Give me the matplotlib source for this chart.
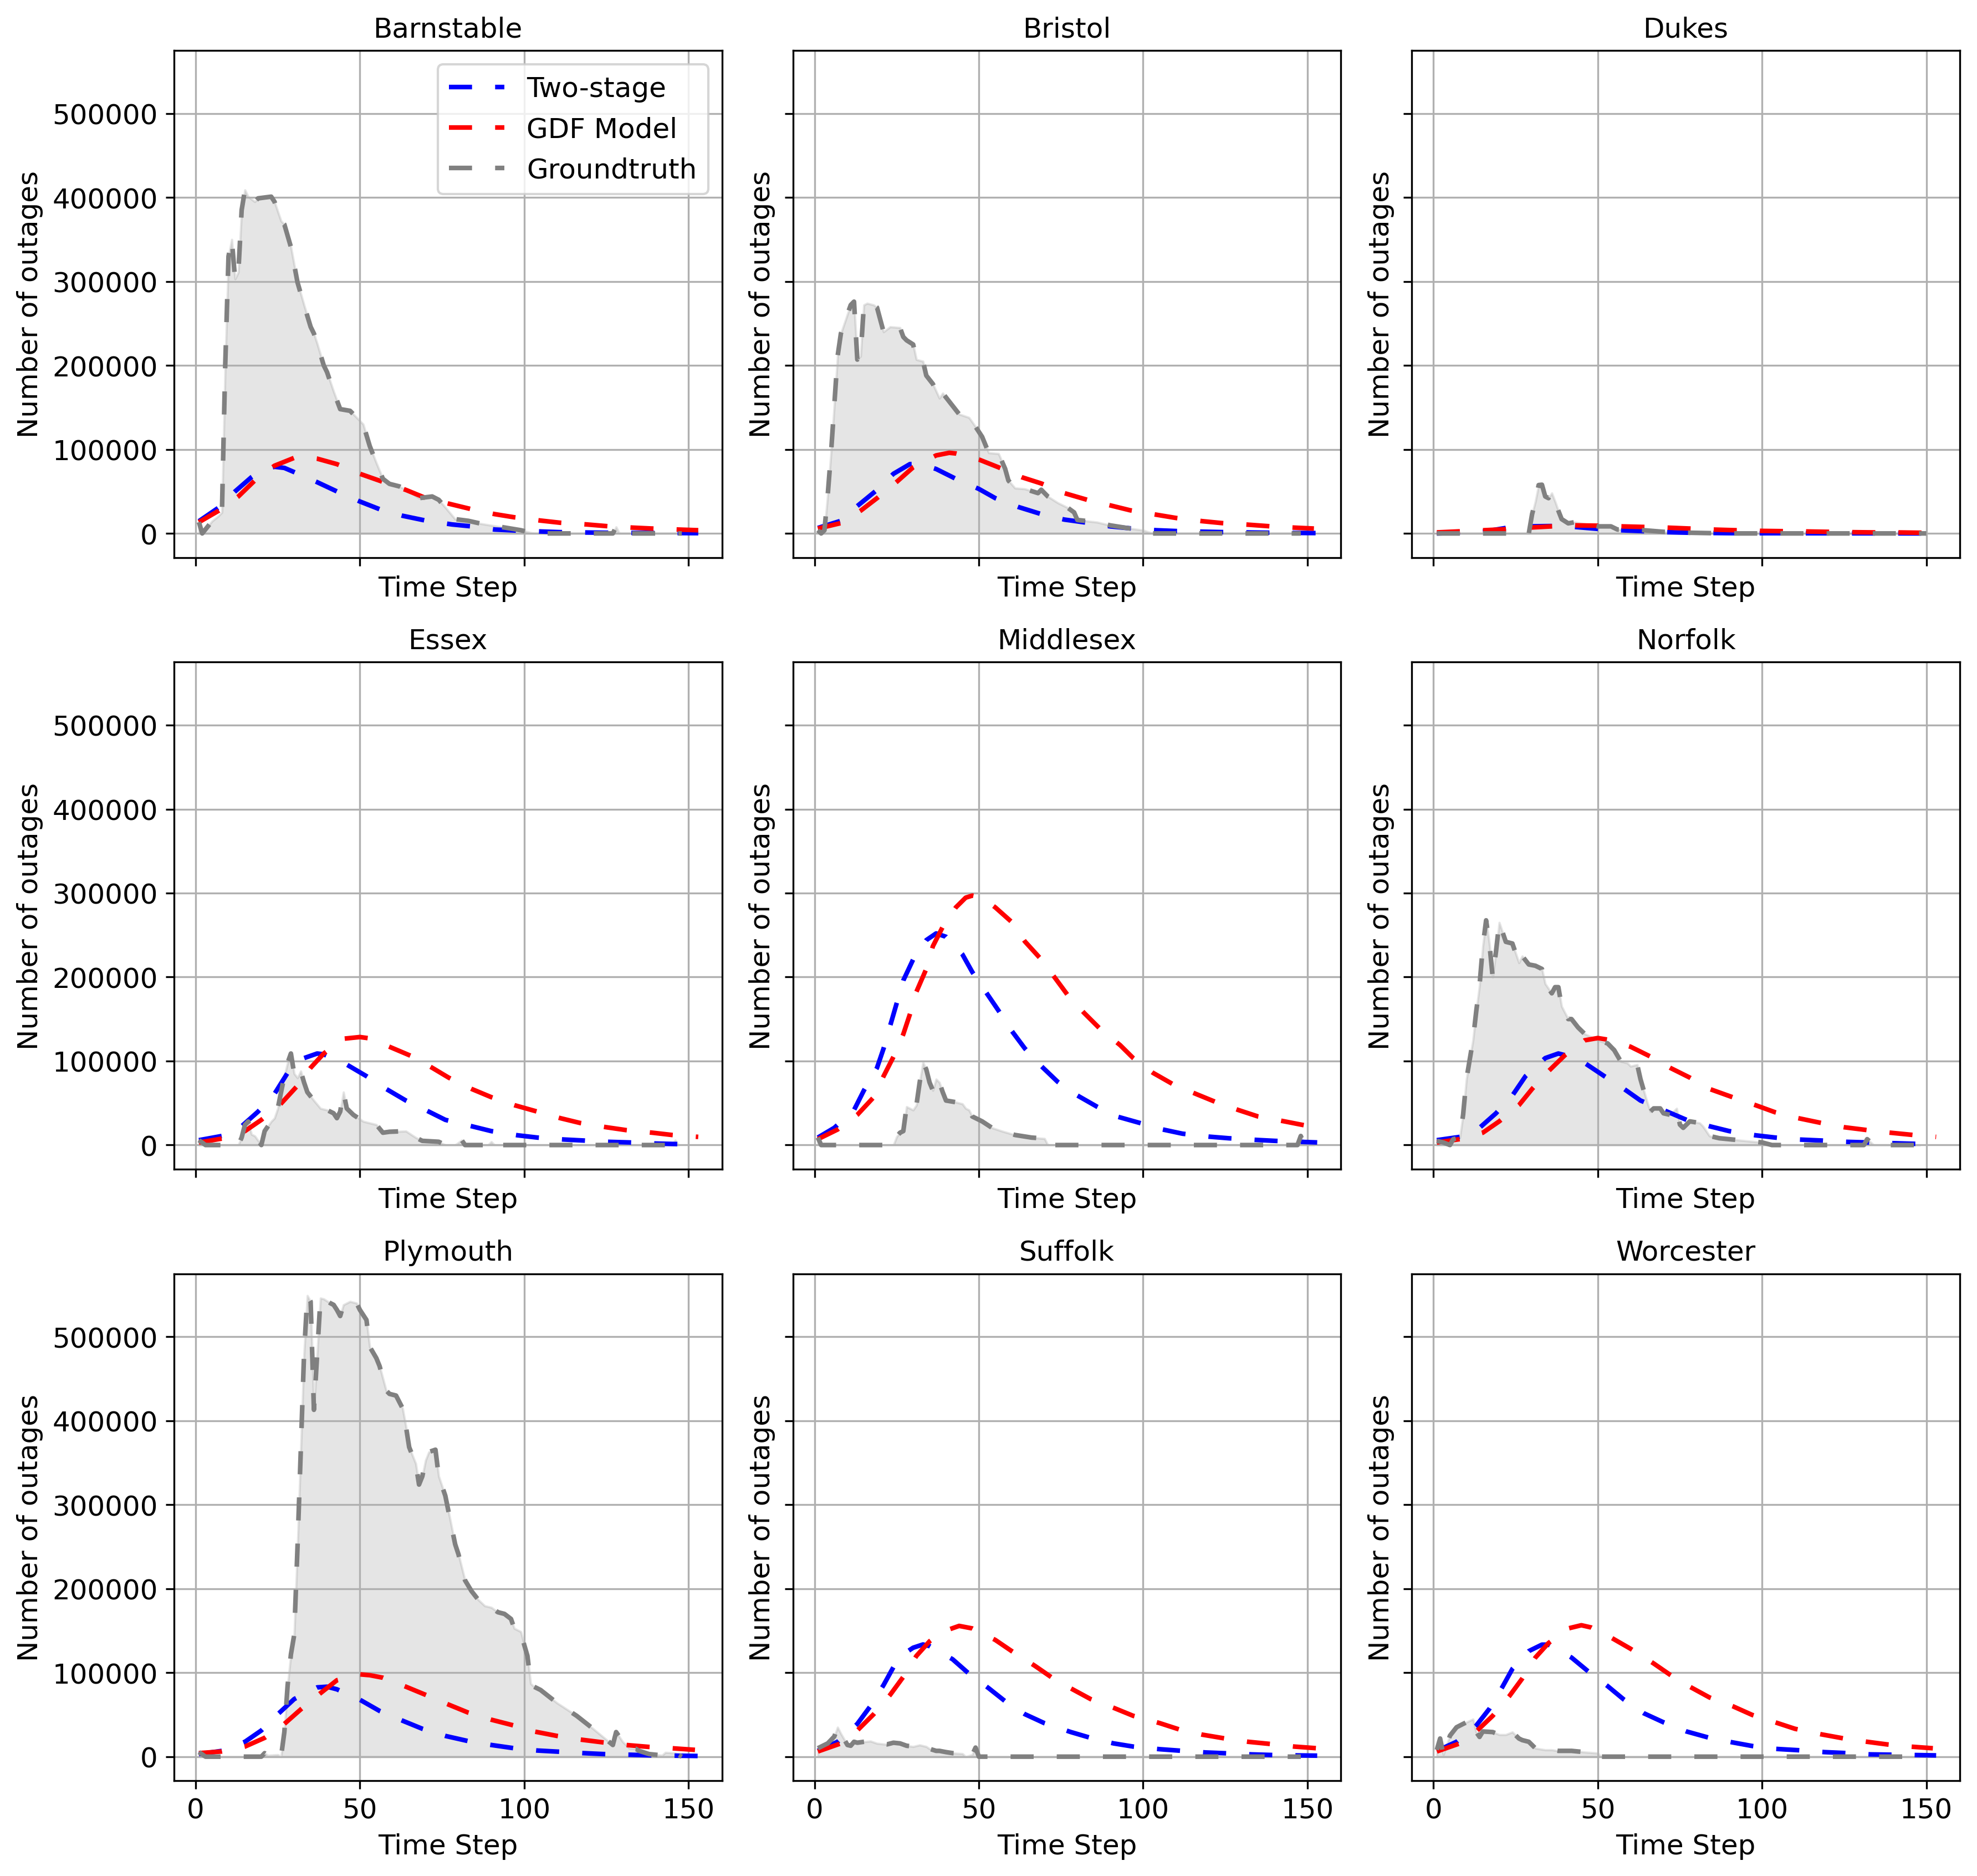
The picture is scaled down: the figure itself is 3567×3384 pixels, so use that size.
import matplotlib
matplotlib.use("Agg")
from matplotlib import pyplot as plt

plt.rcParams['font.size'] = 12

counties = ["Barnstable", "Bristol", "Dukes", "Essex", "Middlesex",
            "Norfolk", "Plymouth", "Suffolk", "Worcester"]

# ---- Barnstable
barnstable_gt_t = [1, 2, 5, 7, 8, 9, 10, 11, 12, 13, 14, 15, 16, 17, 18, 19, 21, 23, 24, 26, 27, 29, 31, 33,
                   35, 36, 37, 39, 40, 42, 44, 47, 49, 51, 53, 55, 57, 59, 62, 65, 68, 72, 74, 76, 79, 83,
                   87, 93, 99, 103, 127, 128, 129, 148]
barnstable_gt = [13400, 0, 14600, 21000, 25000, 200000, 330000, 350000, 303000, 311000, 385000, 409000,
                 401000, 398000, 395000, 399000, 400000, 401000, 395000, 372000, 368000, 341000, 299000,
                 272000, 246000, 238000, 226000, 200000, 192000, 169000, 148000, 146000, 138000, 130000,
                 104000, 84000, 65000, 59000, 56000, 50000, 42000, 44000, 40000, 31000, 17000, 15000,
                 11500, 7700, 3800, 0, 0, 7700, 0, 0]
barnstable_two_t = [1, 7, 12, 17, 20, 24, 27, 30, 37, 43, 50, 56, 63, 70, 78, 84, 91, 100, 111, 125, 153]
barnstable_two = [14600, 30700, 50000, 67000, 75000, 79400, 78000, 73000, 61000, 50000, 38000, 28800,
                  21000, 15300, 10700, 8400, 4600, 3000, 1500, 800, 300]
barnstable_gdf_t = [1, 7, 13, 18, 24, 30, 33, 37, 43, 50, 57, 64, 70, 78, 84, 91, 97, 105, 111, 119, 126,
                    133, 139, 147, 153]
barnstable_gdf = [13400, 27000, 44000, 63000, 80600, 90000, 91000, 89000, 82500, 71000, 61400, 51800,
                  42200, 34500, 28800, 23000, 19200, 15300, 12700, 10700, 8400, 6900, 5800, 4600, 3800]

# ---- Bristol
bristol_gt_t = [1, 2, 3, 4, 5, 6, 7, 8, 10, 11, 12, 13, 14, 15, 16, 18, 19, 21, 23, 26, 27, 28, 30, 31, 33,
                34, 36, 38, 39, 42, 44, 47, 49, 51, 53, 56, 58, 59, 61, 64, 68, 69, 71, 74, 77, 79, 80,
                86, 90, 95, 100, 103, 148]
bristol_gt = [3800, 0, 3800, 46000, 96000, 153000, 211000, 238000, 261000, 272000, 276000, 207000,
              211000, 272000, 274000, 272000, 269000, 240000, 246000, 245000, 234000, 230000, 225000,
              207000, 205000, 188000, 178000, 161000, 167000, 152000, 142000, 138000, 127000, 115000,
              96000, 95000, 77000, 63000, 54000, 53000, 48000, 52000, 44000, 36500, 30700, 25000, 16000,
              13400, 9600, 6500, 3800, 0, 0]
bristol_two_t = [1, 8, 13, 19, 24, 29, 32, 37, 43, 50, 55, 62, 69, 76, 83, 90, 96, 104, 111, 125, 139, 153]
bristol_two = [6500, 15000, 32600, 51800, 71000, 82500, 83000, 76700, 65000, 53000, 42000, 31500, 23000,
               16500, 12700, 8400, 6100, 3800, 2700, 1500, 800, 400]
bristol_gdf_t = [1, 8, 14, 19, 25, 30, 37, 41, 43, 50, 56, 63, 69, 76, 83, 90, 96, 104, 110, 118, 124, 132,
                 139, 146, 152]
bristol_gdf = [5800, 12300, 27000, 42000, 61400, 78700, 92900, 96000, 95200, 88000, 78700, 67000, 59500,
               48000, 40000, 33400, 27600, 22300, 18400, 14600, 12300, 10400, 8400, 6900, 5800]

# ---- Dukes
dukes_gt_t = [1, 29, 30, 31, 32, 33, 34, 35, 36, 37, 38, 39, 41, 43, 50, 54, 56, 64, 70, 78, 89, 150]
dukes_gt = [0, 0, 23000, 38000, 57600, 58000, 44000, 42000, 48000, 38000, 27000, 17000, 12000, 13400,
            8400, 8400, 4600, 3800, 1900, 800, 0, 0]
dukes_two_t = [1, 15, 22, 29, 36, 43, 50, 57, 64, 71, 78, 90, 153]
dukes_two = [0, 2000, 6500, 8400, 8800, 7700, 5400, 3800, 2700, 1500, 800, 300, 0]
dukes_gdf_t = [1, 22, 29, 36, 43, 50, 57, 64, 71, 78, 85, 92, 100, 106, 114, 120, 127, 134, 141, 148, 153]
dukes_gdf = [1200, 5000, 6900, 8400, 9600, 9200, 8400, 7700, 6900, 5800, 4600, 3800, 3000, 2700, 2300,
             1900, 1500, 1200, 1200, 800, 700]

# ---- Essex
essex_gt_t = [1, 3, 13, 14, 15, 16, 17, 18, 20, 21, 23, 24, 25, 26, 27, 28, 29, 30, 31, 32, 33, 34, 36, 38,
              40, 42, 43, 44, 45, 46, 48, 51, 55, 57, 59, 64, 67, 69, 74, 76, 79, 81, 82, 89, 90, 91, 145,
              146, 147]
essex_gt = [5800, 0, 0, 8900, 24000, 28000, 12700, 10800, 0, 16600, 28000, 32000, 43600, 63000, 82000,
            98000, 109000, 85000, 80000, 88000, 74500, 63000, 53000, 43600, 41700, 37800, 32000, 39800,
            63000, 43600, 36000, 28200, 24300, 14700, 15800, 16600, 8900, 5000, 3900, 0, 0, 5800, 0, 0,
            3900, 0, 0, 5800, 0]
essex_two_t = [1, 8, 14, 19, 24, 28, 33, 37, 39, 46, 52, 58, 64, 70, 76, 84, 90, 98, 104, 112, 118, 125,
               132, 139, 146, 153]
essex_two = [5800, 10800, 22400, 39800, 61000, 86000, 103500, 109000, 108000, 95800, 82000, 66800, 53000,
             41700, 30000, 22400, 16600, 11600, 8900, 6600, 5400, 3900, 3100, 1900, 1200, 800]
essex_gdf_t = [1, 8, 15, 20, 26, 31, 35, 39, 45, 50, 53, 59, 66, 72, 77, 84, 90, 97, 104, 111, 117, 125,
               131, 139, 145, 153]
essex_gdf = [3000, 7700, 16600, 30000, 49400, 70700, 92000, 109000, 126600, 128600, 127000, 117000,
             105400, 92000, 80300, 66800, 57000, 47500, 39800, 32000, 26300, 21200, 17800, 14700, 12000,
             9700]

# ---- Middlesex
middlesex_gt_t = [1, 2, 24, 25, 26, 27, 28, 30, 31, 32, 33, 34, 35, 36, 37, 38, 39, 40, 43, 45, 46, 47, 48,
                  51, 54, 57, 61, 66, 70, 71, 147, 148, 149, 152]
middlesex_gt = [8900, 0, 0, 10000, 14700, 16600, 45600, 41700, 47500, 75000, 98500, 90000, 74500, 65000,
                78400, 74500, 63000, 53000, 51000, 49000, 43600, 41700, 34000, 28200, 20500, 16600, 12000,
                8900, 7700, 0, 0, 10800, 1200, 1200]
middlesex_two_t = [1, 6, 12, 15, 19, 21, 23, 25, 27, 30, 34, 37, 40, 45, 48, 52, 56, 60, 64, 69, 74, 80,
                   86, 92, 99, 106, 112, 120, 126, 134, 140, 147, 153]
middlesex_two = [8900, 20500, 41700, 65000, 92000, 115000, 142000, 169000, 196000, 221000, 244000,
                 252000, 248000, 227000, 206000, 183000, 160000, 136000, 115000, 94000, 75300, 59000,
                 45600, 34000, 26300, 18500, 13500, 10000, 8100, 6200, 5000, 3900, 3100]
middlesex_gdf_t = [1, 7, 13, 18, 21, 24, 27, 29, 31, 34, 36, 39, 43, 46, 48, 51, 55, 60, 64, 69, 73, 77,
                   82, 87, 93, 97, 103, 109, 116, 122, 129, 135, 143, 149, 153]
middlesex_gdf = [7000, 18500, 36000, 57000, 82000, 105000, 132000, 155600, 182600, 209700, 236700,
                 259800, 283000, 294600, 297000, 294600, 283000, 265600, 242500, 221000, 200000, 178800,
                 157500, 138000, 119000, 103500, 86000, 72600, 61000, 51400, 41700, 34000, 28200, 23600,
                 21000]

# ---- Norfolk
norfolk_gt_t = [1, 3, 5, 6, 8, 9, 10, 11, 12, 13, 14, 15, 16, 17, 18, 19, 20, 22, 24, 26, 27, 29, 31, 33,
                34, 36, 37, 38, 39, 41, 42, 44, 46, 48, 50, 53, 55, 57, 59, 60, 62, 63, 65, 66, 67, 69, 70,
                72, 74, 75, 76, 78, 81, 82, 84, 87, 93, 100, 103, 131, 132, 134, 148]
norfolk_gt = [5000, 3000, 0, 7000, 8900, 36000, 78000, 101500, 124700, 159500, 190000, 236700, 267600,
              240000, 200000, 230000, 265000, 242000, 240000, 217000, 225000, 215000, 213500, 209700,
              192000, 180700, 188000, 188000, 165000, 150000, 150000, 140000, 132400, 128600, 124700,
              121000, 113000, 99600, 97700, 93800, 95800, 78400, 51400, 39800, 43600, 43600, 37800,
              36000, 43600, 24300, 20500, 28200, 26300, 22400, 10800, 8100, 5800, 3100, 0, 0, 7000, 0, 0]
norfolk_two_t = [1, 8, 14, 19, 24, 28, 34, 38, 40, 46, 52, 58, 63, 70, 77, 84, 90, 98, 104, 111, 118, 125,
                 132, 139, 146, 153]
norfolk_two = [5800, 9700, 20500, 37800, 59000, 82000, 103500, 109000, 107000, 97700, 82000, 66800,
               53000, 41700, 30000, 22400, 16600, 11600, 8900, 6600, 5400, 3900, 3100, 2300, 1500, 1200]
norfolk_gdf_t = [1, 8, 15, 20, 26, 30, 35, 40, 46, 50, 53, 60, 66, 72, 78, 84, 91, 98, 104, 111, 118, 125,
                 132, 139, 146, 153]
norfolk_gdf = [3000, 7000, 14700, 28200, 47500, 66800, 88000, 107000, 124700, 127400, 125500, 117000,
               105400, 92000, 80300, 66800, 57000, 47500, 39000, 32000, 26300, 21200, 17800, 14700, 12000,
               9700]

# ---- Plymouth
plymouth_gt_t = [1, 3, 20, 21, 22, 25, 26, 27, 28, 29, 30, 31, 32, 33, 34, 35, 36, 37, 38, 39, 41, 42, 43,
                 44, 45, 47, 49, 50, 52, 53, 55, 56, 58, 59, 61, 63, 64, 65, 67, 68, 69, 70, 71, 73, 74, 76,
                 77, 78, 79, 80, 82, 84, 86, 88, 90, 92, 94, 96, 97, 99, 100, 101, 102, 103, 105, 110, 116,
                 121, 127, 128, 130, 132, 134, 135, 138, 142, 143, 146, 148]
plymouth_gt = [5400, 0, 0, 4200, 1500, 2300, 0, 29300, 85000, 121800, 145000, 249000, 364700, 480000,
               549000, 542000, 413000, 480000, 546000, 545000, 540000, 538000, 532000, 524700, 538000,
               542000, 540000, 532000, 520000, 488000, 474600, 465000, 436000, 432000, 430000, 414800,
               393600, 368500, 349000, 324000, 333800, 353000, 362800, 365500, 333800, 310700, 291400,
               272000, 252900, 241000, 210000, 197000, 187000, 179600, 177700, 172000, 170000, 164000,
               152700, 148800, 133400, 120000, 87000, 83300, 79400, 64000, 48600, 33200, 13900, 29300,
               17700, 10000, 9300, 6900, 3100, 1500, 5000, 4200, 0]
plymouth_two_t = [1, 8, 15, 20, 25, 30, 37, 40, 43, 50, 56, 63, 69, 76, 83, 90, 97, 104, 111, 118, 124,
                  132, 139, 146, 153]
plymouth_two = [3100, 6900, 17700, 31200, 50500, 68600, 82500, 83300, 80200, 67800, 54400, 42800, 33200,
                24700, 18500, 13900, 10000, 7300, 5800, 4200, 3100, 2300, 1500, 1200, 800]
plymouth_gdf_t = [1, 8, 15, 21, 27, 32, 38, 43, 50, 53, 57, 64, 70, 77, 83, 90, 97, 103, 110, 117, 124,
                  131, 138, 145, 152]
plymouth_gdf = [4200, 6200, 12000, 22400, 39000, 56300, 75600, 91000, 98000, 97000, 94000, 83300, 73600,
                62000, 52400, 44000, 37000, 30000, 24700, 20400, 17000, 13900, 11600, 10000, 8100]

# ---- Suffolk
suffolk_gt_t = [1, 3, 4, 6, 7, 8, 10, 11, 12, 13, 15, 17, 19, 22, 24, 26, 28, 30, 32, 34, 35, 37, 38, 40,
                42, 45, 46, 48, 49, 50, 148]
suffolk_gt = [10000, 13900, 15800, 24000, 35000, 27400, 13900, 13000, 17700, 16600, 17700, 18500, 15800,
              14600, 16600, 15800, 13000, 12000, 13900, 12000, 9300, 6900, 6900, 5400, 4200, 3500, 0,
              2300, 10800, 0, 0]
suffolk_two_t = [1, 7, 13, 17, 21, 24, 27, 30, 33, 35, 42, 47, 53, 58, 64, 70, 78, 84, 91, 97, 105, 112,
                 119, 126, 133, 140, 147, 153]
suffolk_two = [6900, 17700, 39000, 60200, 85300, 106600, 122000, 129700, 133600, 131600, 116000, 98800,
               81500, 66000, 50600, 39800, 29300, 22400, 15800, 12000, 8900, 6900, 5000, 3900, 2700, 1900,
               1500, 1200]
suffolk_gdf_t = [1, 8, 13, 18, 23, 27, 31, 35, 39, 44, 48, 55, 60, 67, 72, 78, 84, 91, 97, 105, 111, 118,
                 125, 132, 139, 146, 153]
suffolk_gdf = [6200, 15800, 31200, 50600, 73600, 95000, 120000, 137400, 148800, 155700, 152700, 139000,
               125700, 108300, 94800, 81300, 68600, 58200, 48600, 40000, 32400, 26200, 21600, 17700,
               15000, 12000, 10000]

# ---- Worcester
worcester_gt_t = [1, 2, 3, 4, 5, 7, 9, 10, 12, 13, 14, 15, 18, 20, 22, 24, 26, 27, 29, 31, 34, 36, 38, 42,
                  46, 50, 51, 148]
worcester_gt = [8100, 21600, 2300, 14000, 25000, 35000, 39000, 40900, 44700, 29300, 23500, 30000, 29300,
                26200, 26200, 29300, 21600, 19700, 17700, 10000, 8100, 8100, 6900, 6900, 5400, 4200, 0, 0]
worcester_two_t = [1, 7, 13, 17, 21, 24, 29, 33, 35, 42, 47, 53, 58, 64, 70, 77, 84, 91, 97, 104, 111,
                   119, 126, 133, 140, 147, 153]
worcester_two = [6900, 17700, 37000, 57000, 83300, 104500, 125700, 133400, 133400, 118000, 101800, 84000,
                 67800, 51700, 40900, 30000, 22400, 17000, 12700, 9300, 7700, 5400, 4200, 2700, 2300,
                 1900, 1500]
worcester_gdf_t = [1, 8, 13, 18, 23, 27, 31, 35, 41, 45, 48, 54, 60, 67, 72, 78, 84, 91, 97, 104, 110,
                   118, 125, 132, 138, 145, 152]
worcester_gdf = [6200, 15800, 30000, 48600, 71700, 93000, 118000, 135300, 152700, 156500, 153800, 141900,
                 128400, 111000, 97500, 83300, 70500, 60200, 49700, 40900, 33200, 26600, 21600, 17700,
                 14600, 12000, 10000]

panels = [
    (barnstable_gt_t, barnstable_gt, barnstable_two_t, barnstable_two, barnstable_gdf_t, barnstable_gdf),
    (bristol_gt_t, bristol_gt, bristol_two_t, bristol_two, bristol_gdf_t, bristol_gdf),
    (dukes_gt_t, dukes_gt, dukes_two_t, dukes_two, dukes_gdf_t, dukes_gdf),
    (essex_gt_t, essex_gt, essex_two_t, essex_two, essex_gdf_t, essex_gdf),
    (middlesex_gt_t, middlesex_gt, middlesex_two_t, middlesex_two, middlesex_gdf_t, middlesex_gdf),
    (norfolk_gt_t, norfolk_gt, norfolk_two_t, norfolk_two, norfolk_gdf_t, norfolk_gdf),
    (plymouth_gt_t, plymouth_gt, plymouth_two_t, plymouth_two, plymouth_gdf_t, plymouth_gdf),
    (suffolk_gt_t, suffolk_gt, suffolk_two_t, suffolk_two, suffolk_gdf_t, suffolk_gdf),
    (worcester_gt_t, worcester_gt, worcester_two_t, worcester_two, worcester_gdf_t, worcester_gdf),
]

dash = (0, (5, 5))

fig, axes = plt.subplots(3, 3, figsize=(11.89, 11.283), sharex=True, sharey=True)
fig.subplots_adjust(left=0.088, right=0.9913, bottom=0.0508, top=0.9728,
                    wspace=0.1296, hspace=0.2066)

for ax, name, (gt_t, gt, two_t, two, gdf_t, gdf) in zip(axes.flat, counties, panels):
    ax.fill_between(gt_t, gt, color='gray', alpha=0.2, zorder=1)
    ax.plot(two_t, two, color='blue', linestyle=dash, linewidth=2, label='Two-stage', zorder=2)
    ax.plot(gdf_t, gdf, color='red', linestyle=dash, linewidth=2, label='GDF Model', zorder=2)
    ax.plot(gt_t, gt, color='gray', linestyle=dash, linewidth=2, label='Groundtruth', zorder=2)
    ax.set_title(name, fontsize=12)
    ax.set_xlabel('Time Step')
    ax.set_ylabel('Number of outages')
    ax.grid(True)

axes[0, 0].legend(loc='upper right')
axes[0, 0].set_xlim(-6.6, 160.2)
axes[0, 0].set_ylim(-28600, 575000)

fig.savefig('out.png', dpi=300)
